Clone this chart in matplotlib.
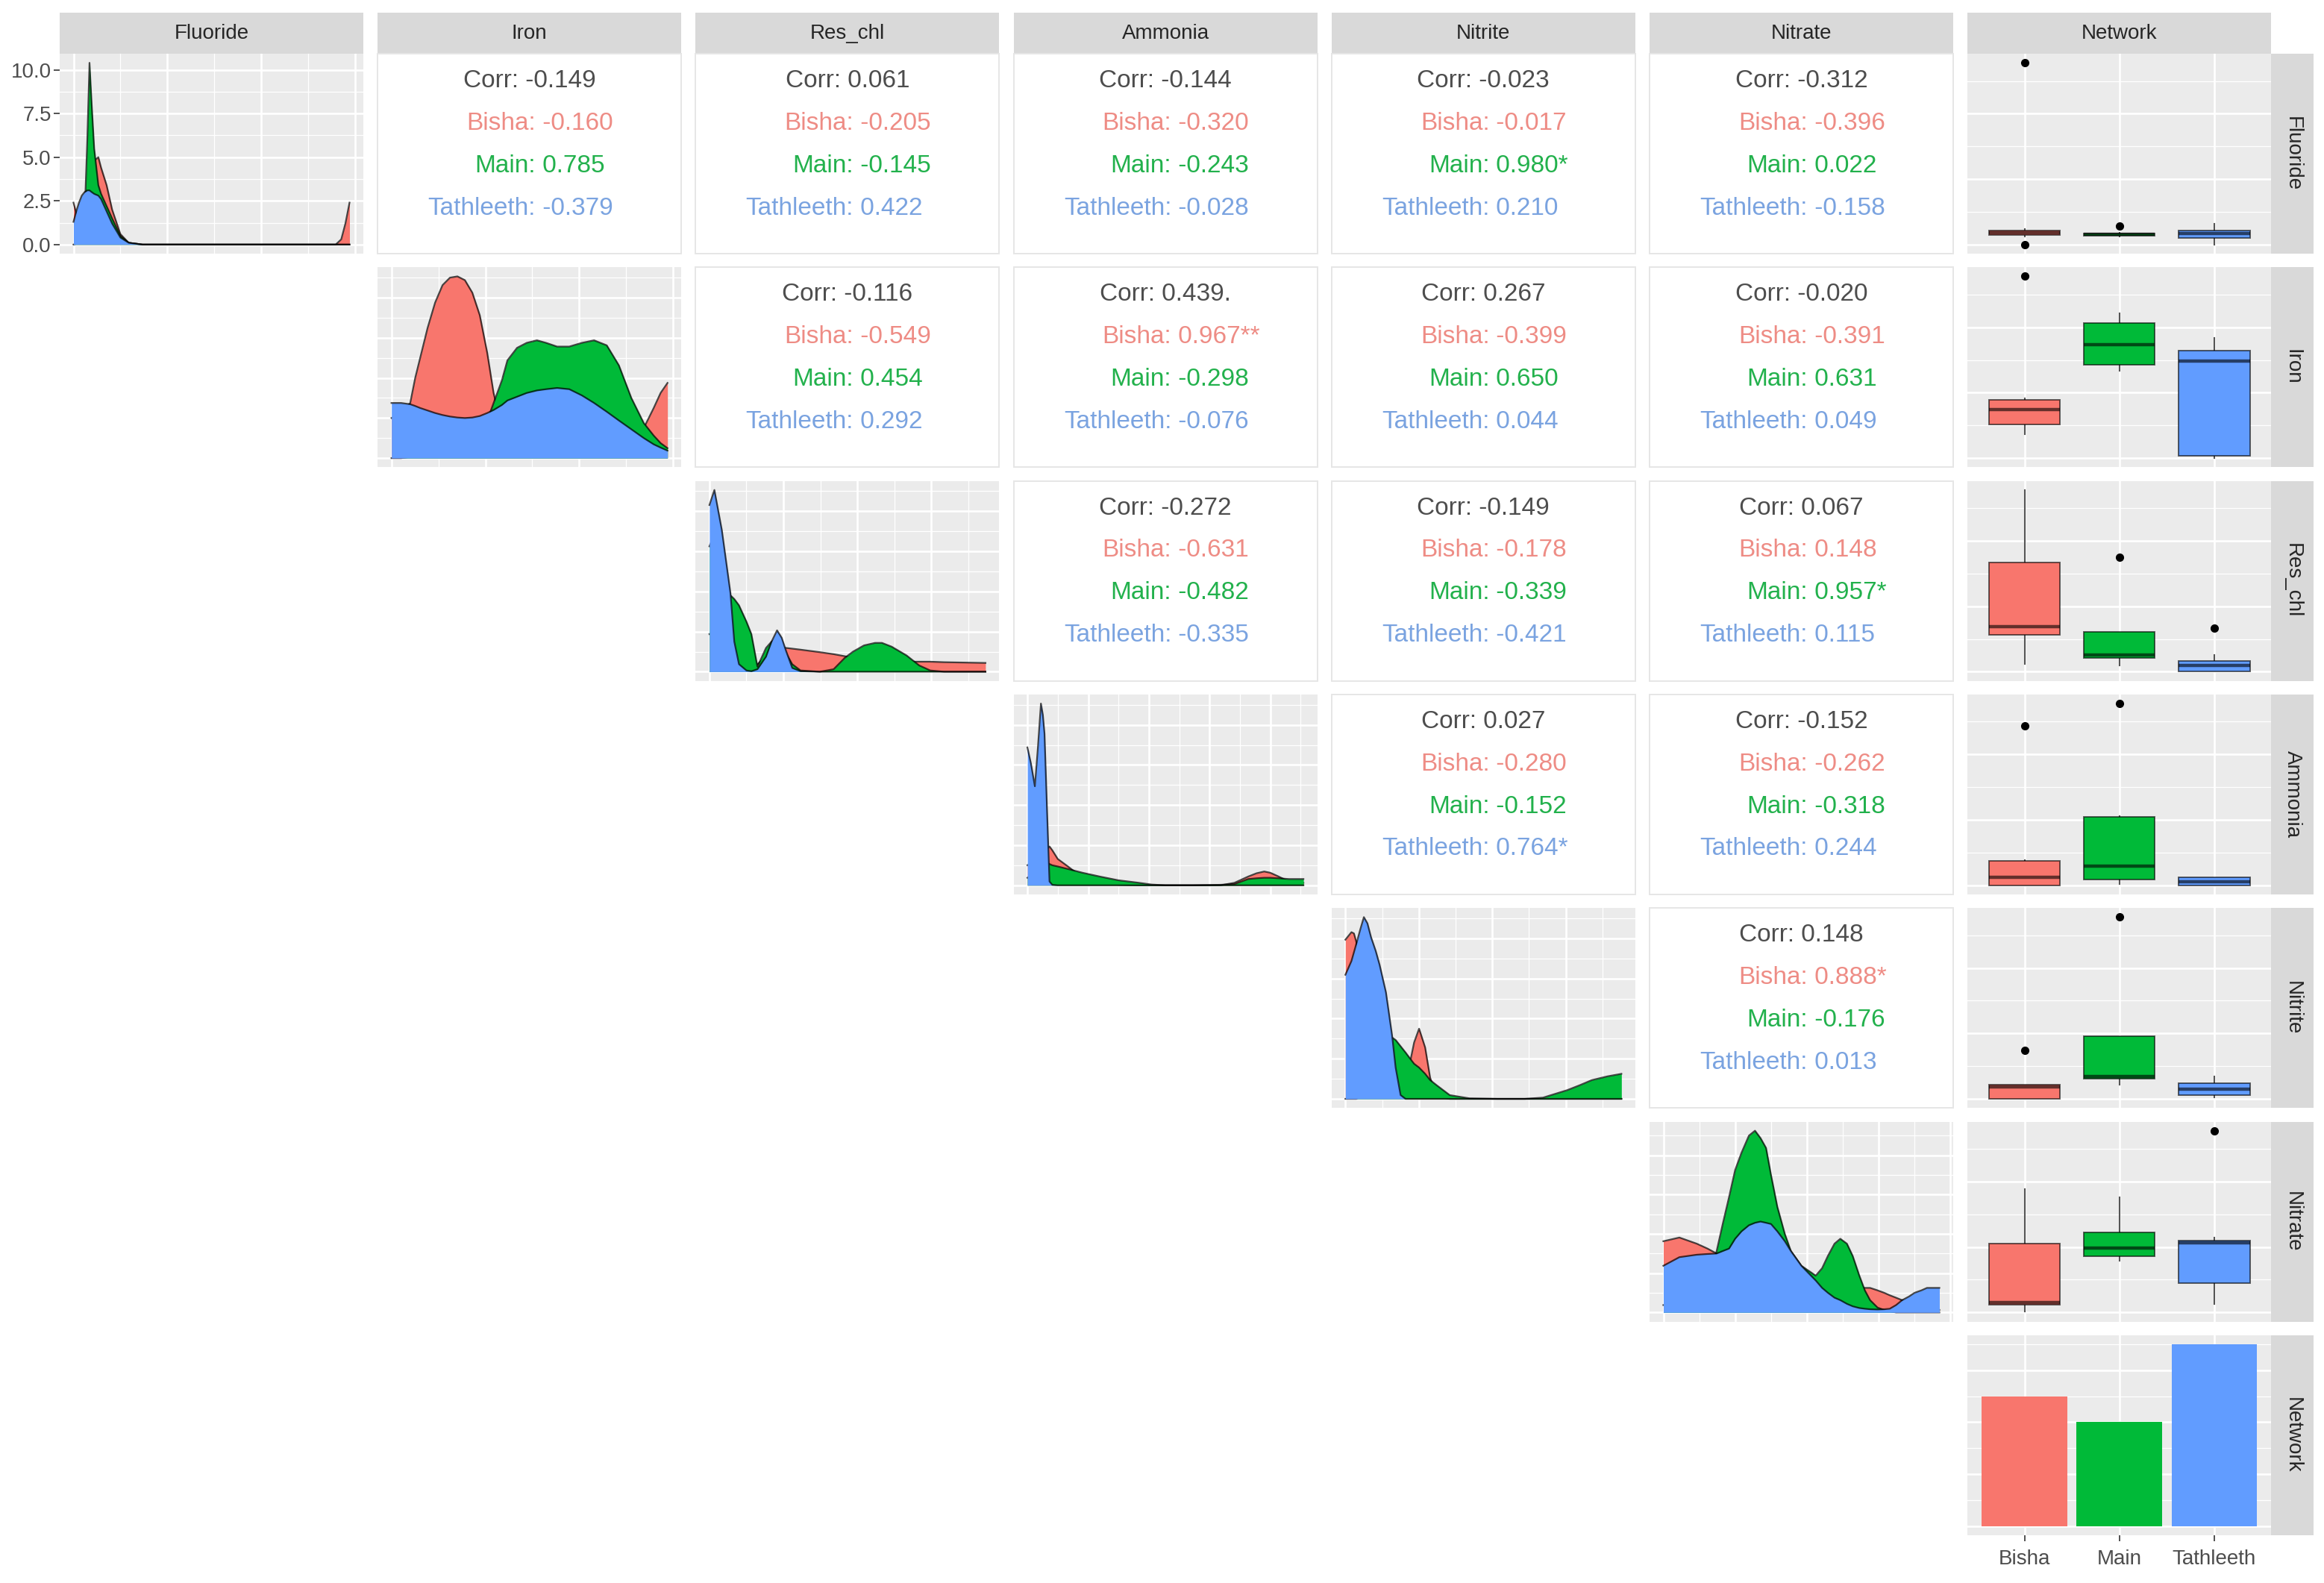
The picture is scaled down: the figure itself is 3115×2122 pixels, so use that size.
import matplotlib
matplotlib.use("Agg")
import matplotlib.pyplot as plt
from matplotlib.ticker import FixedLocator, MultipleLocator

plt.rcParams['font.family'] = ['Liberation Sans', 'DejaVu Sans']

# ---------------------------------------------------------------- data
VARS = ["Fluoride", "Iron", "Res_chl", "Ammonia", "Nitrite", "Nitrate"]
GROUPS = ["Bisha", "Main", "Tathleeth"]
GROUP_COLORS = ["#F8766D", "#00BA38", "#619CFF"]
TEXT_COLORS = ["#EE8C85", "#22B14C", "#7AA3E0"]
COUNTS = [5, 4, 7]

# correlation labels, upper triangle in row order
CORR_ALL = ["-0.149", "0.061", "-0.144", "-0.023", "-0.312",
            "-0.116", "0.439.", "0.267", "-0.020",
            "-0.272", "-0.149", "0.067",
            "0.027", "-0.152",
            "0.148"]
CORR_BISHA = ["-0.160", "-0.205", "-0.320", "-0.017", "-0.396",
              "-0.549", "0.967**", "-0.399", "-0.391",
              "-0.631", "-0.178", "0.148",
              "-0.280", "-0.262",
              "0.888*"]
CORR_MAIN = ["0.785", "-0.145", "-0.243", "0.980*", "0.022",
             "0.454", "-0.298", "0.650", "0.631",
             "-0.482", "-0.339", "0.957*",
             "-0.152", "-0.318",
             "-0.176"]
CORR_TATH = ["-0.379", "0.422", "-0.028", "0.210", "-0.158",
             "0.292", "-0.076", "0.044", "0.049",
             "-0.335", "-0.421", "0.115",
             "0.764*", "0.244",
             "0.013"]

# density curves: x as position within each variable's data range (0..1)
DX_FLUORIDE = [0, 0.01, 0.02, 0.03, 0.04, 0.05, 0.058, 0.066, 0.075, 0.09, 0.10, 0.12,
               0.14, 0.17, 0.2, 0.25, 0.4, 0.6, 0.8, 0.95, 0.97, 0.985, 1.0]
D_FLUORIDE_BISHA = [2.4, 1.8, 1.4, 1.6, 2.2, 3.0, 3.6, 4.2, 4.8, 5.0, 4.4, 3.4,
                    2.0, 0.6, 0.1, 0, 0, 0, 0, 0, 0.3, 1.2, 2.4]
D_FLUORIDE_MAIN = [0, 0.05, 0.1, 0.3, 1.5, 6.0, 10.4, 8.0, 5.5, 3.4, 2.9, 2.2,
                   1.5, 0.5, 0.1, 0, 0, 0, 0, 0, 0, 0, 0]
D_FLUORIDE_TATH = [1.3, 1.9, 2.4, 2.8, 3.0, 3.1, 3.1, 3.0, 2.9, 2.8, 2.6, 1.9,
                   1.2, 0.4, 0.1, 0, 0, 0, 0, 0, 0, 0, 0]

DX_IRON = [0, 0.035, 0.068, 0.086, 0.104, 0.131, 0.158, 0.185, 0.212, 0.239, 0.266, 0.293,
           0.32, 0.347, 0.37, 0.40, 0.42, 0.455, 0.49, 0.527, 0.56, 0.6, 0.644, 0.69,
           0.734, 0.78, 0.824, 0.869, 0.914, 0.95, 0.975, 1.0]
D_IRON_BISHA = [1.6, 1.8, 2.2, 3.2, 4.0, 5.2, 6.2, 6.9, 7.2, 7.25, 7.1, 6.6,
                5.7, 4.2, 2.6, 1.2, 0.8, 0.5, 0.3, 0.2, 0.2, 0.2, 0.2, 0.3,
                0.4, 0.5, 0.6, 0.8, 1.2, 2.0, 2.6, 3.0]
D_IRON_MAIN = [0, 0, 0.05, 0.07, 0.1, 0.15, 0.2, 0.25, 0.35, 0.45, 0.6, 0.75,
               0.95, 1.5, 2.2, 3.1, 3.9, 4.4, 4.6, 4.7, 4.6, 4.45, 4.45, 4.6,
               4.7, 4.5, 3.7, 2.4, 1.4, 0.9, 0.6, 0.4]
D_IRON_TATH = [2.2, 2.2, 2.15, 2.08, 2.0, 1.9, 1.8, 1.72, 1.66, 1.62, 1.6, 1.62,
               1.68, 1.8, 1.92, 2.12, 2.3, 2.45, 2.6, 2.7, 2.75, 2.8, 2.75, 2.5,
               2.2, 1.85, 1.5, 1.15, 0.8, 0.55, 0.42, 0.3]

DX_RESCHL = [0, 0.018, 0.045, 0.076, 0.09, 0.107, 0.134, 0.152, 0.174, 0.205, 0.225, 0.245,
             0.262, 0.277, 0.30, 0.33, 0.4, 0.45, 0.49, 0.52, 0.56, 0.6, 0.625, 0.66,
             0.714, 0.76, 0.8, 0.85, 0.9, 0.95, 1.0]
D_RESCHL_BISHA = [1.5, 1.6, 1.4, 1.0, 0.8, 0.7, 0.5, 0.35, 0.3, 0.6, 0.8, 0.95,
                  0.97, 0.95, 0.92, 0.88, 0.78, 0.7, 0.62, 0.55, 0.5, 0.45, 0.42, 0.4,
                  0.4, 0.4, 0.4, 0.38, 0.37, 0.36, 0.35]
D_RESCHL_MAIN = [5.0, 5.5, 4.5, 3.05, 2.9, 2.65, 2.0, 1.5, 0.2, 0.95, 1.2, 1.3,
                 1.0, 0.75, 0.3, 0.05, 0, 0.1, 0.55, 0.8, 1.05, 1.15, 1.15, 1.0,
                 0.65, 0.25, 0.05, 0, 0, 0, 0]
D_RESCHL_TATH = [6.65, 7.25, 5.65, 3.15, 1.2, 0.3, 0.05, 0.02, 0.1, 0.6, 1.2, 1.65,
                 1.35, 0.85, 0.15, 0.02, 0, 0, 0, 0, 0, 0, 0, 0,
                 0, 0, 0, 0, 0, 0, 0]

DX_AMMONIA = [0, 0.013, 0.027, 0.038, 0.049, 0.056, 0.062, 0.071, 0.08, 0.09, 0.11, 0.147,
              0.2, 0.262, 0.33, 0.404, 0.45, 0.5, 0.6, 0.7, 0.75, 0.8, 0.83, 0.858,
              0.88, 0.91, 0.947, 0.97, 1.0]
D_AMMONIA_BISHA = [0.8, 0.9, 1.0, 1.1, 1.2, 1.3, 1.35, 1.45, 1.55, 1.4, 1.05, 0.75,
                   0.3, 0.1, 0.02, 0, 0, 0, 0, 0, 0.1, 0.35, 0.48, 0.55,
                   0.5, 0.35, 0.15, 0.1, 0.1]
D_AMMONIA_MAIN = [0.3, 0.4, 0.5, 0.6, 0.7, 0.8, 0.85, 0.9, 0.85, 0.8, 0.75, 0.65,
                  0.5, 0.35, 0.2, 0.1, 0.03, 0, 0, 0.02, 0.05, 0.25, 0.28, 0.3,
                  0.3, 0.28, 0.25, 0.25, 0.25]
D_AMMONIA_TATH = [5.5, 4.85, 3.95, 5.5, 7.25, 6.8, 6.05, 3.05, 0.15, 0.02, 0, 0,
                  0, 0, 0, 0, 0, 0, 0, 0, 0, 0, 0, 0,
                  0, 0, 0, 0, 0]

DX_NITRITE = [0, 0.022, 0.031, 0.04, 0.055, 0.067, 0.08, 0.093, 0.11, 0.124, 0.147, 0.169,
              0.182, 0.2, 0.218, 0.235, 0.249, 0.267, 0.289, 0.307, 0.33, 0.378, 0.45, 0.55,
              0.65, 0.716, 0.76, 0.804, 0.85, 0.893, 0.95, 1.0]
D_NITRITE_BISHA = [6.35, 6.65, 6.6, 6.25, 5.0, 4.0, 3.0, 2.5, 2.0, 1.6, 1.3, 1.2,
                   1.2, 1.2, 1.3, 1.5, 2.25, 2.8, 2.05, 0.85, 0.1, 0, 0, 0,
                   0, 0, 0, 0, 0, 0, 0, 0]
D_NITRITE_MAIN = [0, 0, 0, 0, 0.1, 0.2, 0.35, 0.5, 0.7, 1.0, 2.0, 2.45,
                  2.35, 2.1, 1.85, 1.6, 1.4, 1.25, 1.0, 0.75, 0.55, 0.15, 0.02, 0,
                  0, 0.05, 0.2, 0.35, 0.55, 0.75, 0.9, 1.0]
D_NITRITE_TATH = [4.95, 5.5, 5.85, 6.2, 6.8, 7.25, 7.0, 6.45, 5.9, 5.35, 4.25, 2.55,
                  1.25, 0.15, 0, 0, 0, 0, 0, 0, 0, 0, 0, 0,
                  0, 0, 0, 0, 0, 0, 0, 0]

DX_NITRATE = [0, 0.058, 0.121, 0.16, 0.193, 0.215, 0.238, 0.26, 0.283, 0.31, 0.332, 0.352,
              0.372, 0.39, 0.413, 0.44, 0.462, 0.5, 0.552, 0.575, 0.596, 0.62, 0.641, 0.665,
              0.686, 0.71, 0.73, 0.749, 0.776, 0.8, 0.82, 0.843, 0.865, 0.89, 0.91, 0.935,
              0.955, 0.98, 1.0]
D_NITRATE_BISHA = [2.9, 3.05, 2.8, 2.6, 2.4, 2.2, 2.0, 1.8, 1.6, 1.5, 1.4, 1.3,
                   1.2, 1.15, 1.1, 1.05, 1.0, 0.95, 0.95, 0.95, 0.97, 1.0, 1.0, 1.0,
                   1.0, 1.0, 1.0, 1.0, 0.9, 0.8, 0.7, 0.6, 0.5, 0.4, 0.3, 0.2,
                   0.15, 0.1, 0.1]
D_NITRATE_MAIN = [0.3, 0.4, 0.6, 1.0, 2.5, 3.6, 4.7, 5.8, 6.5, 7.2, 7.4, 7.1,
                  6.7, 5.6, 4.3, 3.2, 2.5, 1.9, 1.5, 1.8, 2.3, 2.8, 3.0, 2.8,
                  2.3, 1.5, 0.9, 0.5, 0.2, 0.1, 0.05, 0, 0, 0, 0, 0,
                  0, 0, 0]
D_NITRATE_TATH = [1.9, 2.25, 2.35, 2.38, 2.4, 2.5, 2.6, 3.0, 3.3, 3.55, 3.65, 3.7,
                  3.65, 3.6, 3.3, 2.9, 2.5, 1.9, 1.3, 1.0, 0.8, 0.6, 0.5, 0.35,
                  0.25, 0.18, 0.15, 0.13, 0.12, 0.13, 0.15, 0.3, 0.5, 0.65, 0.8, 0.9,
                  1.0, 1.0, 1.0]

# boxplot stats per group: [whislo, q1, median, q3, whishi] (position within data range)
BOX_FLUORIDE = [[0.045, 0.052, 0.066, 0.079, 0.085], [0.045, 0.048, 0.055, 0.062, 0.065], [0.0, 0.038, 0.059, 0.079, 0.114]]
FLIERS_FLUORIDE = [[1.0, 0.0], [0.1], []]
BOX_IRON = [[0.13, 0.187, 0.266, 0.322, 0.33], [0.48, 0.512, 0.626, 0.742, 0.797], [0.0, 0.013, 0.536, 0.591, 0.662]]
FLIERS_IRON = [[1.0], [], []]
BOX_RESCHL = [[0.044, 0.203, 0.25, 0.6, 1.0], [0.036, 0.076, 0.092, 0.219, 0.22], [0.0, 0.0, 0.036, 0.06, 0.092]]
FLIERS_RESCHL = [[], [0.63], [0.238]]
BOX_AMMONIA = [[0.0, 0.0, 0.046, 0.135, 0.14], [0.007, 0.03, 0.107, 0.378, 0.38], [0.0, 0.0, 0.02, 0.046, 0.046]]
FLIERS_AMMONIA = [[0.877], [1.0], []]
BOX_NITRITE = [[0.0, 0.0, 0.065, 0.077, 0.08], [0.077, 0.111, 0.123, 0.343, 0.343], [0.007, 0.019, 0.053, 0.088, 0.123]]
FLIERS_NITRITE = [[0.267], [1.0], []]
BOX_NITRATE = [[0.007, 0.042, 0.053, 0.378, 0.68], [0.285, 0.309, 0.355, 0.441, 0.633], [0.046, 0.162, 0.385, 0.394, 0.413]]
FLIERS_NITRATE = [[], [], [1.0]]

DENS_X = [DX_FLUORIDE, DX_IRON, DX_RESCHL, DX_AMMONIA, DX_NITRITE, DX_NITRATE]
DENS_Y = [[D_FLUORIDE_BISHA, D_FLUORIDE_MAIN, D_FLUORIDE_TATH],
          [D_IRON_BISHA, D_IRON_MAIN, D_IRON_TATH],
          [D_RESCHL_BISHA, D_RESCHL_MAIN, D_RESCHL_TATH],
          [D_AMMONIA_BISHA, D_AMMONIA_MAIN, D_AMMONIA_TATH],
          [D_NITRITE_BISHA, D_NITRITE_MAIN, D_NITRITE_TATH],
          [D_NITRATE_BISHA, D_NITRATE_MAIN, D_NITRATE_TATH]]
BOXES = [BOX_FLUORIDE, BOX_IRON, BOX_RESCHL, BOX_AMMONIA, BOX_NITRITE, BOX_NITRATE]
FLIERS = [FLIERS_FLUORIDE, FLIERS_IRON, FLIERS_RESCHL, FLIERS_AMMONIA, FLIERS_NITRITE, FLIERS_NITRATE]
XGRID_STEP = [0.17, 0.17, 0.134, 0.11, 0.133, 0.13]
FLUORIDE_TICKS = [0, 2.5, 5, 7.5, 10]
FLUORIDE_TICKLABELS = ["0.0", "2.5", "5.0", "7.5", "10.0"]

# ---------------------------------------------------------------- layout
W, H, DPI = 3115, 2122, 100
fig = plt.figure(figsize=(W / DPI, H / DPI), dpi=DPI)
fig.patch.set_facecolor("white")

COL_X0, COL_STEP, PW = 80, 426.2, 407
ROW_Y0, ROW_STEP, PH = 72, 286.3, 268
STRIP_H, STRIP_W = 55, 57
PANEL_BG, STRIP_BG = "#EBEBEB", "#D9D9D9"
STRIP_TXT, TICK_TXT = "#262626", "#4D4D4D"


def add_ax(x0, y0, w, h):
    return fig.add_axes([x0 / W, 1 - (y0 + h) / H, w / W, h / H])


def px(c):
    return COL_X0 + c * COL_STEP


def py(r):
    return ROW_Y0 + r * ROW_STEP


def gg_panel(ax):
    ax.set_facecolor(PANEL_BG)
    for s in ax.spines.values():
        s.set_visible(False)
    ax.tick_params(which="both", length=0, labelbottom=False, labelleft=False)
    ax.grid(which="major", color="white", lw=1.9)
    ax.grid(which="minor", color="white", lw=0.9)
    ax.set_axisbelow(True)


ncol = len(VARS) + 1
# strips
for c, name in enumerate(VARS + ["Network"]):
    sa = add_ax(px(c), ROW_Y0 - STRIP_H, PW, STRIP_H)
    sa.set_facecolor(STRIP_BG)
    sa.set_xticks([]); sa.set_yticks([])
    for s in sa.spines.values():
        s.set_visible(False)
    sa.text(0.5, 0.5, name, ha="center", va="center", fontsize=20, color=STRIP_TXT,
            transform=sa.transAxes)
for r, name in enumerate(VARS + ["Network"]):
    sa = add_ax(px(ncol - 1) + PW, py(r), STRIP_W, PH)
    sa.set_facecolor(STRIP_BG)
    sa.set_xticks([]); sa.set_yticks([])
    for s in sa.spines.values():
        s.set_visible(False)
    sa.text(0.5, 0.5, name, ha="center", va="center", fontsize=20, color=STRIP_TXT,
            rotation=-90, transform=sa.transAxes)

# diagonal densities
for i in range(len(VARS)):
    ax = add_ax(px(i), py(i), PW, PH)
    gg_panel(ax)
    x = DENS_X[i]
    M = max(max(g) for g in DENS_Y[i])
    for gi in range(3):
        y = DENS_Y[i][gi]
        ax.fill_between(x, 0, y, color=GROUP_COLORS[gi], lw=0, zorder=2 + 2 * gi)
        ax.plot(x, y, color="black", alpha=0.7, lw=1.6, zorder=3 + 2 * gi,
                solid_joinstyle="round")
    ax.set_xlim(-0.05, 1.05)
    ax.set_ylim(-0.05 * M, 1.05 * M)
    st = XGRID_STEP[i]
    ax.xaxis.set_major_locator(MultipleLocator(2 * st))
    ax.xaxis.set_minor_locator(MultipleLocator(st))
    if i == 0:
        ax.yaxis.set_major_locator(FixedLocator(FLUORIDE_TICKS))
        ax.yaxis.set_minor_locator(MultipleLocator(1.25))
        ax.set_yticklabels(FLUORIDE_TICKLABELS)
        ax.tick_params(axis="y", which="major", length=6, width=1.2, color="#333333",
                       labelleft=True, labelsize=20, labelcolor=TICK_TXT, pad=2)
    else:
        ax.yaxis.set_major_locator(MultipleLocator(1.6))
        ax.yaxis.set_minor_locator(MultipleLocator(0.8))

# correlation text panels
k = 0
for r in range(len(VARS)):
    for c in range(r + 1, len(VARS)):
        ax = add_ax(px(c), py(r), PW, PH)
        ax.set_facecolor("white")
        ax.set_xticks([]); ax.set_yticks([])
        for s in ax.spines.values():
            s.set_color("#E6E6E6")
            s.set_linewidth(1.4)
        ax.set_xlim(0, 1)
        ax.set_ylim(-0.05, 1.05)
        ax.text(0.5, 0.9, "Corr: " + CORR_ALL[k], ha="center", va="center",
                fontsize=24, color="#4D4D4D")
        vals = [CORR_BISHA[k], CORR_MAIN[k], CORR_TATH[k]]
        for gi, yy in enumerate([0.667, 0.433, 0.2]):
            ax.text(0.52, yy, GROUPS[gi] + ":", ha="right", va="center",
                    fontsize=24, color=TEXT_COLORS[gi])
            ax.text(0.52, yy, " " + vals[gi], ha="left", va="center",
                    fontsize=24, color=TEXT_COLORS[gi])
        k += 1

# boxplots in Network column
for i in range(len(VARS)):
    ax = add_ax(px(ncol - 1), py(i), PW, PH)
    gg_panel(ax)
    stats = []
    for gi in range(3):
        b = BOXES[i][gi]
        stats.append(dict(whislo=b[0], q1=b[1], med=b[2], q3=b[3], whishi=b[4],
                          fliers=FLIERS[i][gi]))
    bp = ax.bxp(stats, positions=[1, 2, 3], widths=0.75, patch_artist=True,
                showcaps=False,
                boxprops=dict(lw=1.4, edgecolor=(0, 0, 0, 0.6)),
                medianprops=dict(color=(0, 0, 0, 0.6), lw=3.2),
                whiskerprops=dict(color="#555555", lw=1.5),
                flierprops=dict(marker="o", markerfacecolor="black",
                                markeredgecolor="black", markersize=7))
    for patch, col in zip(bp["boxes"], GROUP_COLORS):
        patch.set_facecolor(col)
        patch.set_zorder(3)
    for m in bp["medians"]:
        m.set_zorder(4)
    ax.set_xlim(0.4, 3.6)
    ax.set_ylim(-0.05, 1.05)
    ax.xaxis.set_major_locator(FixedLocator([1, 2, 3]))
    ax.yaxis.set_major_locator(MultipleLocator(0.36))
    ax.yaxis.set_minor_locator(MultipleLocator(0.18))
    ax.grid(which="minor", axis="x", visible=False)

# bar chart
ax = add_ax(px(ncol - 1), py(ncol - 1), PW, PH)
gg_panel(ax)
ax.bar([1, 2, 3], COUNTS, width=0.9, color=GROUP_COLORS, zorder=2)
ax.set_xlim(0.4, 3.6)
ax.set_ylim(-0.05 * max(COUNTS), 1.05 * max(COUNTS))
ax.xaxis.set_major_locator(FixedLocator([1, 2, 3]))
ax.yaxis.set_major_locator(MultipleLocator(2))
ax.yaxis.set_minor_locator(MultipleLocator(1))
ax.grid(which="minor", axis="x", visible=False)
ax.set_xticklabels(GROUPS)
ax.tick_params(axis="x", which="major", length=6, width=1.2, color="#333333",
               labelbottom=True, labelsize=20, labelcolor=TICK_TXT, pad=8)

fig.savefig("out.png", dpi=DPI, facecolor="white")
